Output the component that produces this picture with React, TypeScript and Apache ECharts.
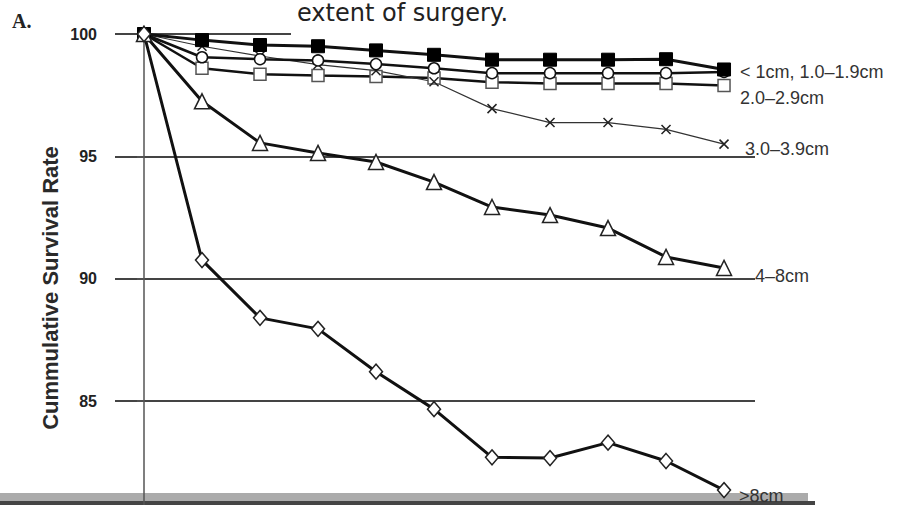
import React, { useEffect, useRef } from "react";
import * as echarts from "echarts";

const years = [0, 1, 2, 3, 4, 5, 6, 7, 8, 9, 10];
const under1cm = [100, 99.75, 99.55, 99.5, 99.33, 99.15, 98.95, 98.95, 98.95, 98.97, 98.55];
const cm10to19 = [100, 99.05, 98.97, 98.92, 98.77, 98.6, 98.4, 98.4, 98.4, 98.4, 98.45];
const cm20to29 = [100, 98.6, 98.36, 98.3, 98.26, 98.2, 98.03, 97.98, 97.98, 97.98, 97.9];
const cm30to39 = [100, 99.5, 99.1, 98.75, 98.5, 98.05, 96.95, 96.38, 96.38, 96.1, 95.5];
const cm4to8 = [100, 97.25, 95.55, 95.14, 94.77, 93.95, 92.93, 92.6, 92.07, 90.89, 90.44];
const over8cm = [100, 90.76, 88.4, 87.95, 86.2, 84.67, 82.7, 82.67, 83.3, 82.55, 81.36];

const yTickValues = [80, 85, 90, 95, 100];
const labels = {
  a: "< 1cm, 1.0–1.9cm",
  b: "2.0–2.9cm",
  c: "3.0–3.9cm",
  d: "4–8cm",
  e: ">8cm",
};

const pts = (vals: number[]) => years.map((x, i) => [x, vals[i]]);

export default function App() {
  const ref = useRef<HTMLDivElement>(null);
  useEffect(() => {
    if (!ref.current) return;
    const chart = echarts.init(ref.current, null, { renderer: "svg" });
    const lineBase = { type: "line", showSymbol: true, symbolKeepAspect: false };
    const font = "'Liberation Sans', Arial, sans-serif";
    chart.setOption({
      animation: false,
      backgroundColor: "#ffffff",
      grid: { left: 115, width: 640, top: 34, height: 489.4, containLabel: false },
      xAxis: {
        type: "value",
        min: -0.5,
        max: 10.534,
        show: false,
      },
      yAxis: {
        type: "value",
        min: yTickValues[0],
        max: yTickValues[yTickValues.length - 1],
        interval: 5,
        axisLine: { show: true, lineStyle: { color: "#555", width: 1.5 } },
        axisTick: { show: true, length: 7, lineStyle: { color: "#555", width: 1.5 } },
        axisLabel: {
          margin: 18,
          fontSize: 16,
          fontWeight: "bold",
          color: "#222",
          fontFamily: font,
          formatter: (v: number) => (v === yTickValues[0] ? "" : String(v)),
        },
        splitLine: { show: true, lineStyle: { color: "#444", width: 1.8 } },
      },
      graphic: [
        { type: "rect", z: 1, shape: { x: 291, y: 0, width: 613, height: 37 }, style: { fill: "#ffffff" } },
        { type: "rect", z: 0, shape: { x: 0, y: 493, width: 808, height: 9 }, style: { fill: "#ababab" } },
        { type: "rect", z: 0, shape: { x: 0, y: 501, width: 815, height: 40 }, style: { fill: "#444" } },
        {
          type: "text", z: 5, x: 297, y: 13,
          style: { text: "extent of surgery.", font: "24px 'DejaVu Sans', sans-serif", fill: "#222", verticalAlign: "middle" },
        },
        {
          type: "text", z: 5, x: 12, y: 21,
          style: { text: "A.", font: "bold 20px 'Liberation Serif', serif", fill: "#222", verticalAlign: "middle" },
        },
        {
          type: "text", z: 5, x: 50, y: 288, rotation: Math.PI / 2,
          style: { text: "Cummulative Survival Rate", font: "bold 22px " + font, fill: "#2a2a2a", align: "center", verticalAlign: "middle" },
        },
        { type: "text", z: 5, x: 740, y: 72, style: { text: labels.a, font: "18px " + font, fill: "#333", verticalAlign: "middle" } },
        { type: "text", z: 5, x: 740, y: 98, style: { text: labels.b, font: "18px " + font, fill: "#333", verticalAlign: "middle" } },
        { type: "text", z: 5, x: 745, y: 149, style: { text: labels.c, font: "18px " + font, fill: "#333", verticalAlign: "middle" } },
        { type: "text", z: 5, x: 755, y: 276, style: { text: labels.d, font: "18px " + font, fill: "#333", verticalAlign: "middle" } },
        { type: "text", z: 5, x: 739, y: 496, style: { text: labels.e, font: "18px " + font, fill: "#333", verticalAlign: "middle" } },
      ],
      series: [
        {
          ...lineBase, name: "2.0–2.9cm", data: pts(cm20to29),
          symbol: "rect", symbolSize: 12,
          lineStyle: { color: "#111", width: 2.5 },
          itemStyle: { color: "#fff", borderColor: "#555", borderWidth: 1.5 },
        },
        {
          ...lineBase, name: "3.0–3.9cm", data: pts(cm30to39),
          symbol: "path://M0,0L10,10M10,0L0,10", symbolSize: 9,
          lineStyle: { color: "#333", width: 1.2 },
          itemStyle: { color: "none", borderColor: "#222", borderWidth: 1.5 },
        },
        {
          ...lineBase, name: "1.0–1.9cm", data: pts(cm10to19),
          symbol: "circle", symbolSize: 11,
          lineStyle: { color: "#111", width: 2.5 },
          itemStyle: { color: "#fff", borderColor: "#111", borderWidth: 1.5 },
        },
        {
          ...lineBase, name: "< 1cm", data: pts(under1cm),
          symbol: "rect", symbolSize: 13,
          lineStyle: { color: "#111", width: 3 },
          itemStyle: { color: "#000", borderColor: "#000", borderWidth: 1 },
        },
        {
          ...lineBase, name: "4–8cm", data: pts(cm4to8),
          symbol: "triangle", symbolSize: 15,
          lineStyle: { color: "#111", width: 3 },
          itemStyle: { color: "#fff", borderColor: "#222", borderWidth: 1.5 },
        },
        {
          ...lineBase, name: ">8cm", data: pts(over8cm),
          symbol: "diamond", symbolSize: [13, 15],
          lineStyle: { color: "#111", width: 3 },
          itemStyle: { color: "#fff", borderColor: "#222", borderWidth: 1.5 },
        },
      ],
    });
    return () => chart.dispose();
  }, []);
  return (
    <div style={{ position: "absolute", left: 0, top: 0, width: 904, height: 505, overflow: "hidden" }}>
      <div ref={ref} style={{ width: 904, height: 540 }} />
    </div>
  );
}
